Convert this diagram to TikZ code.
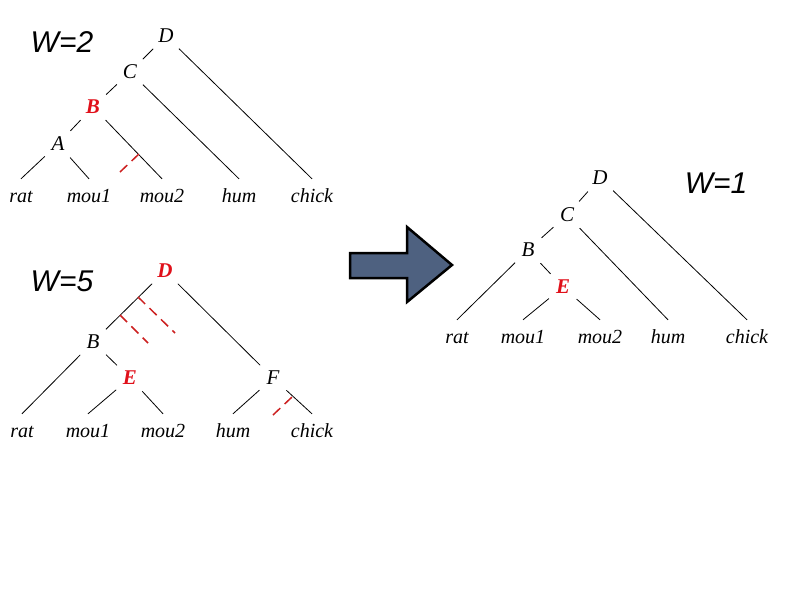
\documentclass[tikz,border=0pt]{standalone}
\usepackage{fontspec}
\setmainfont{Liberation Serif}
\newfontfamily\wfont{Liberation Sans}
\definecolor{redlab}{HTML}{E0101A}
\definecolor{reddash}{HTML}{CC2020}
\definecolor{arrowfill}{HTML}{4E6180}
\begin{document}
\begin{tikzpicture}[x=1pt,y=-1pt,
  inner/.style={circle, minimum size=36pt, inner sep=0pt, font=\fontsize{21}{24}\selectfont\itshape},
  hot/.style={inner, text=redlab, font=\fontsize{21}{24}\selectfont\bfseries\itshape},
  leaf/.style={anchor=base, inner xsep=0pt, inner ysep=9pt, text height=14pt, text depth=0pt, font=\fontsize{20}{23}\selectfont\itshape},
  branch/.style={line width=0.8pt},
  cut/.style={reddash, line width=1.5pt, dash pattern=on 10pt off 6pt},
  wlab/.style={font=\wfont\itshape\fontsize{30}{30}\selectfont},
  bigarrow/.style={fill=arrowfill, draw=black, line width=2.5pt, line join=miter}
]
\useasboundingbox (0,0) rectangle (800,600);

% ---------- Tree 1 (W=2) ----------
\node[wlab] (w2) at (62,42) {W=2};
\node[inner] (t1D) at (166,36) {D};
\node[inner] (t1C) at (130,72) {C};
\node[hot]   (t1B) at (93,107) {B};
\node[inner] (t1A) at (58,144) {A};
\node[leaf] (t1rat)   at (21,202)  {rat};
\node[leaf] (t1mou1)  at (89,202)  {mou1};
\node[leaf] (t1mou2)  at (162,202) {mou2};
\node[leaf] (t1hum)   at (239,202) {hum};
\node[leaf] (t1chick) at (312,202) {chick};
\draw[branch] (t1D) -- (t1C);
\draw[branch] (t1D) -- (t1chick.north);
\draw[branch] (t1C) -- (t1B);
\draw[branch] (t1C) -- (t1hum.north);
\draw[branch] (t1B) -- (t1A);
\draw[branch] (t1B) -- (t1mou2.north);
\draw[branch] (t1A) -- (t1rat.north);
\draw[branch] (t1A) -- (t1mou1.north);
\coordinate (t1x1) at (120,172);
\coordinate (t1x2) at (140,153);
\draw[cut] (t1x1) -- (t1x2);

% ---------- Tree 2 (W=5) ----------
\node[wlab] (w5) at (62,281) {W=5};
\node[hot]   (t2D) at (165,271) {D};
\node[inner] (t2B) at (93,342) {B};
\node[hot]   (t2E) at (130,378) {E};
\node[inner] (t2F) at (273,378) {F};
\node[leaf] (t2rat)   at (22,437)  {rat};
\node[leaf] (t2mou1)  at (88,437)  {mou1};
\node[leaf] (t2mou2)  at (163,437) {mou2};
\node[leaf] (t2hum)   at (233,437) {hum};
\node[leaf] (t2chick) at (312,437) {chick};
\draw[branch] (t2D) -- (t2B);
\draw[branch] (t2D) -- (t2F);
\draw[branch] (t2B) -- (t2rat.north);
\draw[branch] (t2B) -- (t2E);
\draw[branch] (t2E) -- (t2mou1.north);
\draw[branch] (t2E) -- (t2mou2.north);
\draw[branch] (t2F) -- (t2hum.north);
\draw[branch] (t2F) -- (t2chick.north);
\coordinate (t2a1) at (138,297);
\coordinate (t2a2) at (175,333);
\coordinate (t2b1) at (120,315);
\coordinate (t2b2) at (148,343);
\coordinate (t2c1) at (273,415);
\coordinate (t2c2) at (292,397);
\draw[cut] (t2a1) -- (t2a2);
\draw[cut] (t2b1) -- (t2b2);
\draw[cut] (t2c1) -- (t2c2);

% ---------- Arrow ----------
\draw[bigarrow] (350,253) -- (407,253) -- (407,227) -- (452,265) -- (407,302) -- (407,278) -- (350,278) -- cycle;

% ---------- Tree 3 (W=1) ----------
\node[wlab] (w1) at (716,183) {W=1};
\node[inner] (t3D) at (600,178) {D};
\node[inner] (t3C) at (567,215) {C};
\node[inner] (t3B) at (528,250) {B};
\node[hot]   (t3E) at (563,287) {E};
\node[leaf] (t3rat)   at (457,343) {rat};
\node[leaf] (t3mou1)  at (523,343) {mou1};
\node[leaf] (t3mou2)  at (600,343) {mou2};
\node[leaf] (t3hum)   at (668,343) {hum};
\node[leaf] (t3chick) at (747,343) {chick};
\draw[branch] (t3D) -- (t3C);
\draw[branch] (t3D) -- (t3chick.north);
\draw[branch] (t3C) -- (t3B);
\draw[branch] (t3C) -- (t3hum.north);
\draw[branch] (t3B) -- (t3rat.north);
\draw[branch] (t3B) -- (t3E);
\draw[branch] (t3E) -- (t3mou1.north);
\draw[branch] (t3E) -- (t3mou2.north);
\end{tikzpicture}
\end{document}
